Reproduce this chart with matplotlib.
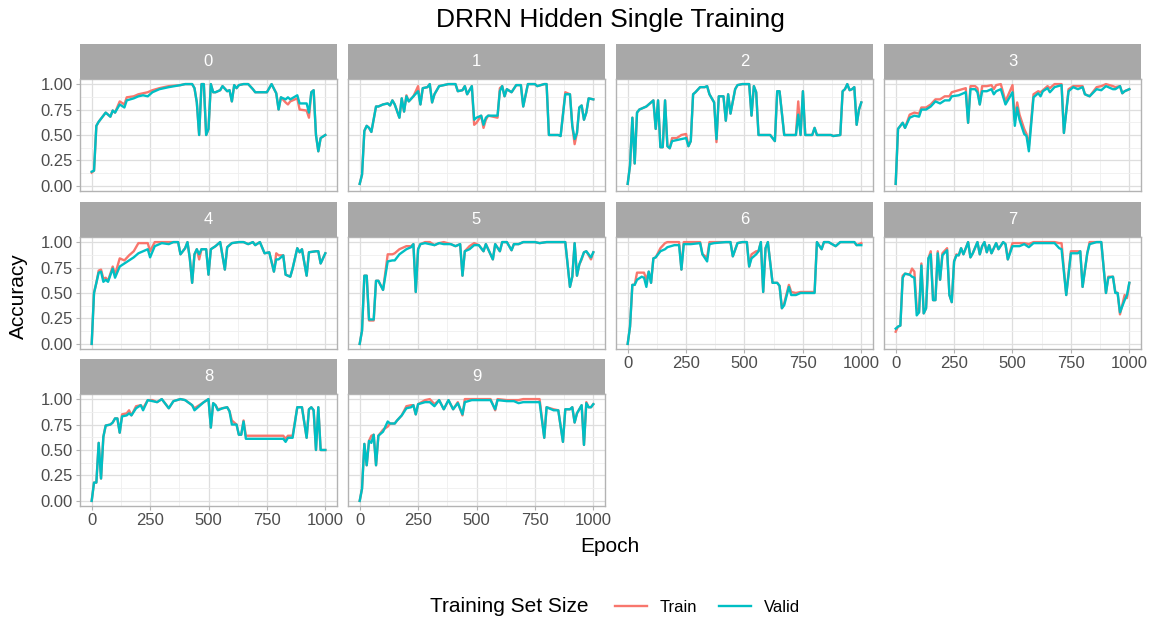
import matplotlib
matplotlib.use("Agg")
import matplotlib.pyplot as plt
from matplotlib.lines import Line2D
from matplotlib.ticker import MultipleLocator, FormatStrFormatter

plt.rcParams['font.family'] = ['Liberation Sans', 'DejaVu Sans']

# ---- data (epoch, train accuracy, valid accuracy) ----
ep0 = [0, 10, 20, 30, 60, 80, 90, 100, 120, 140, 150, 180, 200, 220, 240, 260, 290, 330, 380, 400,
       430, 440, 450, 460, 470, 480, 490, 500, 510, 520, 530, 550, 560, 580, 590, 600, 610, 620, 630, 650,
       670, 690, 700, 750, 770, 790, 800, 810, 830, 840, 850, 880, 890, 920, 930, 940, 950, 960, 970, 980, 1000]
train0 = [.13, .15, .59, .63, .72, .68, .74, .72, .83, .80, .87, .88, .90, .91, .92, .94, .96, .98, .99, 1.0,
          1.0, .96, .82, .50, 1.0, 1.0, .50, .56, 1.0, .92, .92, .94, .98, .93, .94, .83, .99, .96, .99, 1.0,
          1.0, .95, .92, .92, 1.0, .91, .75, .87, .82, .80, .83, .86, .75, .74, .67, .92, .94, .50, .34, .47, .50]
valid0 = [.14, .15, .59, .63, .72, .68, .74, .72, .80, .77, .84, .86, .88, .89, .88, .92, .95, .97, .99, 1.0,
          1.0, .96, .82, .50, 1.0, 1.0, .50, .56, 1.0, .92, .92, .94, .98, .93, .94, .83, .99, .96, .99, 1.0,
          1.0, .95, .92, .92, 1.0, .91, .75, .87, .85, .87, .85, .89, .81, .81, .72, .92, .94, .50, .34, .47, .50]

ep1 = [0, 10, 20, 30, 40, 50, 70, 80, 100, 120, 130, 140, 150, 170, 180, 190, 200, 210, 230, 250,
       260, 270, 290, 300, 310, 320, 340, 360, 380, 410, 420, 440, 450, 460, 480, 490, 500, 520, 530, 540,
       550, 590, 600, 610, 620, 630, 650, 670, 690, 700, 720, 750, 760, 790, 800, 810, 850, 860, 880, 900,
       910, 920, 930, 940, 950, 960, 970, 980, 1000]
train1 = [.02, .11, .54, .59, .57, .53, .78, .78, .80, .81, .79, .84, .80, .67, .86, .73, .89, .83, .88, .98,
          .80, .96, .97, 1.0, .82, .90, .98, .99, 1.0, 1.0, .93, .94, .98, .90, .98, .60, .62, .69, .57, .65,
          .69, .67, .96, .98, .88, .95, .92, .99, .99, .78, 1.0, 1.0, .98, 1.0, 1.0, .50, .50, .49, .92, .90,
          .59, .41, .52, .77, .79, .65, .72, .86, .85]
valid1 = [.02, .11, .54, .59, .57, .53, .78, .78, .80, .81, .79, .84, .80, .67, .86, .73, .88, .83, .88, .93,
          .80, .96, .97, 1.0, .82, .90, .98, .99, 1.0, 1.0, .93, .94, .98, .90, .98, .65, .67, .69, .60, .67,
          .69, .69, .93, .98, .88, .95, .92, .99, .99, .78, 1.0, 1.0, .98, 1.0, 1.0, .50, .50, .49, .90, .90,
          .59, .46, .52, .77, .79, .65, .72, .86, .85]

ep2 = [0, 10, 20, 30, 40, 50, 70, 80, 100, 110, 120, 130, 140, 150, 160, 170, 180, 190, 210, 230,
       250, 260, 270, 280, 290, 310, 330, 340, 350, 370, 380, 390, 410, 420, 430, 440, 460, 470, 490, 510,
       520, 530, 540, 550, 560, 610, 630, 640, 650, 670, 720, 730, 740, 750, 760, 790, 800, 810, 870, 880,
       910, 920, 930, 940, 950, 960, 970, 980, 990, 1000]
train2 = [.02, .20, .67, .22, .72, .75, .77, .78, .82, .84, .56, .84, .38, .38, .84, .39, .37, .47, .47, .50,
          .51, .39, .44, .90, .92, .97, .97, .98, .90, .82, .43, .88, .88, .64, .90, .71, .95, .99, 1.0, 1.0,
          1.0, .69, .98, .92, .50, .50, .44, .93, .93, .50, .50, .83, .50, .93, .50, .50, .57, .50, .50, .49,
          .50, .93, .95, 1.0, .94, .95, .97, .60, .75, .82]
valid2 = [.02, .20, .67, .22, .72, .75, .77, .78, .82, .84, .56, .84, .38, .38, .84, .39, .37, .44, .45, .46,
          .47, .39, .44, .90, .92, .97, .97, .98, .90, .82, .46, .88, .88, .64, .90, .71, .95, .99, 1.0, 1.0,
          1.0, .69, .98, .92, .50, .50, .44, .93, .93, .50, .50, .70, .50, .93, .50, .50, .57, .50, .50, .49,
          .50, .93, .95, 1.0, .94, .95, .97, .60, .75, .82]

ep3 = [0, 10, 30, 40, 60, 80, 100, 110, 130, 150, 170, 190, 210, 230, 240, 270, 300, 310, 320, 340,
       350, 360, 370, 390, 410, 420, 430, 450, 470, 500, 510, 520, 530, 550, 560, 570, 590, 610, 620, 630,
       650, 660, 680, 710, 720, 740, 760, 780, 800, 810, 830, 860, 880, 900, 930, 940, 960, 970, 980, 1000]
train3 = [.02, .56, .62, .57, .70, .72, .71, .77, .77, .80, .85, .85, .88, .88, .92, .94, .96, .62, .98, .98,
          .96, .80, .98, .98, .99, .95, .99, 1.0, .83, .99, .65, .82, .70, .56, .51, .39, .90, .93, .92, .94,
          .98, .96, 1.0, 1.0, .52, .95, .98, .98, .98, .90, .88, .97, .98, 1.0, .98, .97, .98, .91, .93, .95]
valid3 = [.02, .56, .62, .57, .67, .69, .68, .75, .75, .78, .83, .81, .84, .84, .88, .89, .92, .62, .95, .95,
          .92, .80, .93, .93, .95, .90, .93, .95, .80, .92, .59, .77, .65, .51, .49, .34, .87, .91, .88, .93,
          .96, .92, .97, .99, .52, .93, .97, .95, .97, .90, .88, .95, .94, .98, .95, .95, .98, .91, .93, .95]

ep4 = [0, 10, 20, 30, 40, 50, 60, 70, 90, 100, 120, 140, 160, 180, 200, 240, 250, 270, 300, 330,
       350, 370, 380, 400, 410, 420, 430, 440, 450, 460, 470, 490, 500, 510, 530, 550, 570, 580, 600, 630,
       650, 670, 690, 700, 720, 740, 760, 780, 790, 800, 820, 830, 850, 860, 880, 890, 900, 920, 930, 960,
       970, 980, 1000]
train4 = [.0, .50, .60, .72, .73, .64, .65, .62, .76, .68, .84, .82, .87, .91, .99, .99, .91, 1.0, 1.0, 1.0,
          1.0, 1.0, .88, .94, 1.0, .84, .60, .88, .93, .83, .93, .93, .68, .93, .96, 1.0, .73, .95, .99, 1.0,
          1.0, .98, 1.0, .97, 1.0, .89, .90, .71, .89, .87, .87, .68, .66, .74, .94, .90, .93, .67, .90, .91,
          .91, .79, .89]
valid4 = [.0, .50, .60, .70, .71, .61, .63, .61, .74, .65, .76, .79, .82, .85, .89, .93, .85, .96, .99, .98,
          1.0, 1.0, .88, .94, 1.0, .84, .60, .88, .93, .88, .93, .93, .68, .93, .96, 1.0, .73, .95, .99, 1.0,
          1.0, .98, 1.0, .97, 1.0, .89, .90, .71, .83, .83, .87, .68, .66, .74, .94, .90, .93, .67, .90, .91,
          .91, .79, .89]

ep5 = [0, 10, 20, 30, 40, 60, 70, 80, 100, 120, 140, 150, 170, 200, 220, 230, 240, 250, 260, 280,
       300, 320, 340, 360, 390, 410, 430, 440, 450, 470, 490, 510, 530, 540, 570, 580, 600, 610, 630, 650,
       660, 680, 700, 750, 770, 800, 840, 870, 880, 900, 910, 920, 930, 940, 950, 960, 970, 990, 1000]
train5 = [.0, .13, .67, .67, .23, .23, .62, .62, .53, .88, .88, .89, .93, .96, .96, .98, .51, .93, .98, 1.0,
          1.0, .97, .99, 1.0, .98, .96, .98, .67, .91, .96, .99, .97, .91, .98, .83, .98, .91, 1.0, 1.0, .92,
          .98, .98, 1.0, 1.0, .99, 1.0, 1.0, 1.0, 1.0, .56, .66, .99, .67, .78, .83, .90, .91, .83, .90]
valid5 = [.0, .13, .67, .67, .24, .24, .62, .62, .53, .81, .82, .82, .88, .93, .95, .98, .51, .93, .98, .99,
          .98, .97, .99, .98, .98, .96, .98, .67, .91, .93, .97, .97, .91, .98, .83, .98, .91, 1.0, 1.0, .92,
          .98, .98, 1.0, 1.0, .99, 1.0, 1.0, 1.0, 1.0, .56, .66, .99, .67, .78, .84, .90, .91, .85, .90]

ep6 = [0, 10, 20, 30, 40, 60, 70, 80, 90, 100, 110, 120, 140, 160, 170, 200, 220, 230, 240, 270,
       310, 320, 340, 350, 370, 420, 440, 450, 470, 490, 510, 520, 530, 550, 560, 570, 580, 590, 600, 620,
       640, 650, 660, 670, 690, 700, 720, 740, 770, 800, 810, 830, 840, 860, 890, 910, 950, 970, 980, 1000]
train6 = [.0, .17, .58, .58, .70, .70, .70, .63, .71, .60, .84, .85, .94, .99, 1.0, 1.0, 1.0, .73, 1.0, 1.0,
          1.0, .88, .85, 1.0, 1.0, 1.0, 1.0, .86, .99, 1.0, 1.0, .76, .88, .91, .91, 1.0, .51, .94, 1.0, .60,
          .60, .57, .35, .40, .58, .51, .50, .51, .51, .51, 1.0, .93, 1.0, 1.0, .96, 1.0, 1.0, 1.0, .97, .99]
valid6 = [.0, .17, .58, .58, .63, .66, .65, .56, .71, .60, .84, .85, .91, .93, .95, .97, .97, .73, .98, .98,
          .99, .88, .81, .98, .99, 1.0, 1.0, .86, .99, 1.0, 1.0, .76, .84, .88, .91, 1.0, .51, .94, 1.0, .60,
          .60, .57, .35, .38, .56, .48, .48, .50, .50, .50, 1.0, .93, 1.0, 1.0, .96, 1.0, 1.0, 1.0, .97, .97]

ep7 = [0, 10, 20, 30, 40, 60, 70, 80, 90, 100, 110, 120, 130, 140, 150, 160, 170, 180, 190, 200,
       220, 230, 240, 250, 260, 270, 280, 290, 310, 320, 330, 350, 360, 370, 380, 390, 400, 410, 430, 440,
       460, 470, 480, 500, 530, 550, 570, 590, 630, 660, 680, 700, 710, 730, 750, 780, 790, 800, 820, 830,
       860, 880, 900, 910, 930, 940, 950, 960, 980, 990, 1000]
train7 = [.12, .17, .18, .67, .69, .68, .74, .71, .35, .31, .79, .30, .35, .84, .91, .43, .43, .91, .63, .89,
          .94, .48, .41, .81, .88, .87, .94, .88, 1.0, .85, .89, 1.0, .88, .96, 1.0, .90, .97, .89, .99, .93,
          1.0, .98, .83, .99, .99, .99, .98, 1.0, 1.0, 1.0, 1.0, .99, .99, .48, .91, .91, .91, .56, .89, 1.0,
          1.0, 1.0, .50, .66, .66, .51, .50, .29, .48, .45, .60]
valid7 = [.15, .17, .18, .65, .69, .68, .66, .65, .28, .31, .77, .30, .35, .84, .88, .43, .43, .89, .63, .87,
          .92, .48, .41, .81, .87, .87, .94, .88, 1.0, .85, .89, 1.0, .88, .96, 1.0, .90, .97, .89, .99, .93,
          1.0, .98, .83, .96, .96, .98, .95, .99, .99, .99, .99, .94, .93, .48, .89, .89, .91, .56, .89, .98,
          1.0, 1.0, .50, .65, .66, .50, .50, .31, .43, .48, .60]

ep8 = [0, 10, 20, 30, 40, 50, 60, 80, 90, 100, 110, 120, 130, 150, 160, 170, 190, 210, 220, 240,
       260, 280, 300, 330, 350, 380, 400, 430, 440, 460, 480, 500, 510, 520, 530, 540, 560, 580, 590, 600,
       620, 630, 640, 650, 660, 690, 730, 770, 820, 830, 840, 860, 880, 900, 920, 930, 940, 950, 960, 970,
       980, 1000]
train8 = [.0, .18, .18, .57, .22, .63, .74, .75, .77, .81, .81, .67, .85, .86, .89, .84, .93, .94, .91, .99,
          .99, .97, 1.0, .91, .98, 1.0, .99, .94, .91, .94, .97, 1.0, .72, .96, .94, .90, .91, .92, .88, .79,
          .75, .65, .65, .79, .64, .64, .64, .64, .64, .61, .64, .64, .92, .92, .62, .90, .92, .89, .50, .92,
          .50, .50]
valid8 = [.0, .18, .18, .57, .22, .63, .74, .75, .77, .81, .81, .67, .83, .84, .86, .84, .91, .94, .89, .99,
          .98, .97, 1.0, .91, .98, 1.0, .99, .94, .89, .93, .97, 1.0, .72, .96, .94, .89, .91, .92, .88, .75,
          .75, .65, .65, .78, .61, .61, .61, .61, .61, .58, .62, .62, .92, .92, .62, .90, .92, .89, .50, .92,
          .50, .50]

ep9 = [0, 10, 20, 30, 40, 50, 60, 70, 80, 100, 120, 130, 150, 160, 180, 200, 220, 230, 240, 250,
       280, 300, 320, 340, 360, 380, 400, 420, 440, 450, 480, 500, 560, 580, 590, 630, 660, 680, 700, 730,
       770, 790, 800, 830, 850, 870, 880, 900, 910, 920, 930, 950, 960, 970, 980, 990, 1000]
train9 = [.0, .12, .56, .35, .59, .64, .65, .35, .64, .70, .73, .76, .76, .79, .84, .93, .94, .94, .85, .95,
          .99, 1.0, .95, .99, .90, .99, .90, .97, .84, 1.0, 1.0, 1.0, 1.0, .89, 1.0, .99, .99, .99, 1.0, 1.0,
          1.0, .62, .92, .90, .89, .58, .90, .90, .92, .77, .86, .94, .55, .97, .92, .92, .95]
valid9 = [.0, .12, .56, .35, .59, .57, .65, .35, .64, .68, .78, .76, .76, .79, .84, .91, .92, .94, .85, .95,
          .97, .97, .93, .99, .90, .99, .90, .96, .85, .97, .99, .99, .99, .90, .99, .98, .98, .96, .97, .97,
          .97, .62, .92, .89, .89, .58, .90, .90, .92, .77, .86, .94, .55, .96, .92, .92, .95]

panels = [(ep0, train0, valid0), (ep1, train1, valid1), (ep2, train2, valid2),
          (ep3, train3, valid3), (ep4, train4, valid4), (ep5, train5, valid5),
          (ep6, train6, valid6), (ep7, train7, valid7), (ep8, train8, valid8),
          (ep9, train9, valid9)]

train_color = '#F8766D'
valid_color = '#00BFC4'

# ---- layout (pixels) ----
W, H = 1156, 622
fig = plt.figure(figsize=(W / 100, H / 100), dpi=100)

col_left = [80, 348, 616, 884]
col_w = 257
strip_top = [44, 202, 359]
strip_h = 35
plot_h = 112


def px_box(x, y, w, h):
    return [x / W, 1 - (y + h) / H, w / W, h / H]


for i, (ep, tr, va) in enumerate(panels):
    r, c = divmod(i, 4)
    x0 = col_left[c]
    st = strip_top[r]

    ax = fig.add_axes(px_box(x0, st + strip_h, col_w, plot_h))
    ax.plot(ep, tr, color=train_color, lw=1.7)
    ax.plot(ep, va, color=valid_color, lw=1.7)
    ax.set_xlim(-50, 1050)
    ax.set_ylim(-0.05, 1.05)
    ax.xaxis.set_major_locator(MultipleLocator(250))
    ax.xaxis.set_minor_locator(MultipleLocator(125))
    ax.yaxis.set_major_locator(MultipleLocator(0.25))
    ax.yaxis.set_minor_locator(MultipleLocator(0.125))
    ax.yaxis.set_major_formatter(FormatStrFormatter('%.2f'))
    ax.grid(which='major', color='#dedede', lw=0.9)
    ax.grid(which='minor', color='#efefef', lw=0.6)
    ax.set_axisbelow(True)
    for sp in ax.spines.values():
        sp.set_color('#b3b3b3')
        sp.set_linewidth(1.0)
    ax.tick_params(which='major', color='#b3b3b3', length=3, width=0.8,
                   labelcolor='#4d4d4d', labelsize=12, pad=2)
    ax.tick_params(which='minor', length=0)

    show_x = i in (6, 7, 8, 9)
    show_y = c == 0
    ax.tick_params(axis='x', labelbottom=show_x, bottom=show_x)
    ax.tick_params(axis='y', labelleft=show_y, left=show_y)

    sax = fig.add_axes(px_box(x0, st, col_w, strip_h))
    sax.set_facecolor('#a8a8a8')
    sax.set_xticks([])
    sax.set_yticks([])
    for sp in sax.spines.values():
        sp.set_visible(False)
    sax.text(0.5, 0.5, str(i), color='white', ha='center', va='center', fontsize=12)

fig.text(610 / W, 1 - 20 / H, "DRRN Hidden Single Training", ha='center', va='center', fontsize=19)
fig.text(610 / W, 1 - 546 / H, "Epoch", ha='center', va='center', fontsize=15)
fig.text(18 / W, 1 - 296 / H, "Accuracy", ha='center', va='center', rotation=90, fontsize=15)

fig.text(430 / W, 1 - 607 / H, "Training Set Size", ha='left', va='center', fontsize=15)
handles = [Line2D([], [], color=train_color, lw=1.7), Line2D([], [], color=valid_color, lw=1.7)]
fig.legend(handles, ['Train', 'Valid'], ncol=2, loc='center left',
           bbox_to_anchor=(600 / W, 1 - 607 / H), frameon=False, fontsize=12,
           handlelength=1.9, handletextpad=0.8, columnspacing=1.3)

fig.savefig('out.png', dpi=100)
